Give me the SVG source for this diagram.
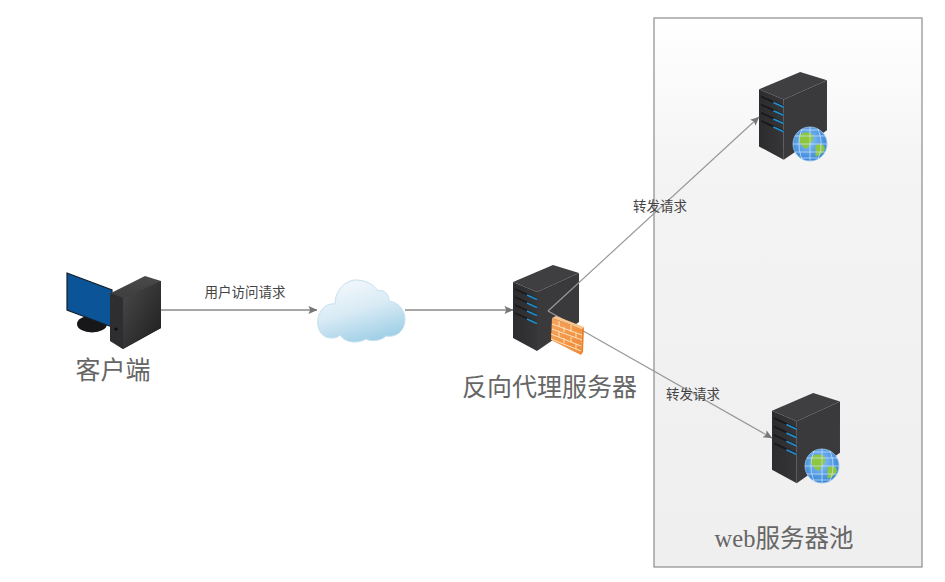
<svg xmlns="http://www.w3.org/2000/svg" xmlns:xlink="http://www.w3.org/1999/xlink" width="945" height="582" viewBox="0 0 945 582">
<style>
text{font-family:"Liberation Sans","Noto Sans CJK SC",sans-serif;text-anchor:middle}
.big{font-size:25px;fill:#666}
.small{font-size:13.5px;fill:#444}
.pool{font-family:"Liberation Serif","Noto Sans CJK SC",serif;font-size:24.500px;fill:#666}
.conn{fill:none;stroke:#999;stroke-width:1.200;marker-end:url(#arrow)}
.flat{stroke:#8a8a8a;stroke-width:1.500}
.blue{stroke:#1f8fd0;stroke-width:1.600;fill:none}
.slit{stroke:#1a1a1c;stroke-width:1.800;fill:none}
.brick{stroke:#fde3c0;stroke-width:1;fill:none}
.grid{stroke:#cfe6ff;stroke-width:.7;fill:none}
</style>
<defs>
<marker id="arrow" viewBox="0 0 10 10" refX="9.500" refY="5" markerUnits="userSpaceOnUse" markerWidth="9" markerHeight="9" orient="auto"><path d="M0 0.500L10 5L0 9.500L2 5Z" fill="#777"/></marker>
<linearGradient id="panel" x1="0" y1="0" x2="0" y2="1"><stop offset="0" stop-color="#ffffff"/><stop offset=".3" stop-color="#f3f3f3"/><stop offset="1" stop-color="#efefef"/></linearGradient>
<linearGradient id="cloud" x1=".2" y1="0" x2=".6" y2="1"><stop offset="0" stop-color="#f4f9fc"/><stop offset=".5" stop-color="#d9ebf5"/><stop offset="1" stop-color="#9fcfe6"/></linearGradient>
<linearGradient id="side" x1="0" y1="0" x2="1" y2="0"><stop offset="0" stop-color="#2c2c2e"/><stop offset="1" stop-color="#363638"/></linearGradient>
<linearGradient id="towerFront" x1="0" y1="0" x2="1" y2="1"><stop offset="0" stop-color="#4a4a4a"/><stop offset="1" stop-color="#1d1d1d"/></linearGradient>
<linearGradient id="towerSide" x1="0" y1="0" x2="0" y2="1"><stop offset="0" stop-color="#4a4a4a"/><stop offset="1" stop-color="#202020"/></linearGradient>
<linearGradient id="fire" x1="0" y1="0" x2="1" y2="1"><stop offset="0" stop-color="#f6a45a"/><stop offset="1" stop-color="#ef8a35"/></linearGradient>
<radialGradient id="globe" cx=".45" cy=".4" r=".65"><stop offset="0" stop-color="#8cc4f5"/><stop offset="1" stop-color="#2f7fd6"/></radialGradient>
<g id="server">
<path d="M0 17L40 0L66 8L24 27Z" fill="#3f3f41"/>
<path d="M0 17L24 27V86L0 73Z" fill="url(#side)"/>
<path d="M24 27L66 8V57L24 86Z" fill="#3a3a3c"/>
<path class="slit" d="M2 24L24 34M2 32L24 42M2 40L24 50M2 48L24 58"/>
<path class="blue" d="M14 30L24 34.500M14 38L24 42.500M14 46L24 50.500M14 54L24 58.500"/>
<path d="M11 56V78" stroke="#333" stroke-width=".8" fill="none"/>
</g>
<g id="earth">
<circle r="17" fill="url(#globe)" stroke="#9cc6ea" stroke-width=".8"/>
<path d="M-11 -9C-5 -13 3 -12 3 -7C4 -2 -1 -1 -2 4C-5 6 -9 1 -11 -3Z" fill="#8dc63f"/>
<path d="M6 1C11 -1 15 1 15 5C13 10 8 13 5 12C7 8 4 5 6 1Z" fill="#8dc63f"/>
<path class="grid" d="M-17 0H17M-15 -8H15M-15 8H15M-9 -14H9M-9 14H9M0 -17V17M-8 -15C-12 -5 -12 5 -8 15M8 -15C12 -5 12 5 8 15"/>
</g>
</defs>

<g id="pool">
<rect x="654" y="18" width="268" height="549" fill="url(#panel)" stroke="#8c8c8c" stroke-width="1.200"/>
<text class="pool" x="784" y="547">web服务器池</text>
</g>

<g id="client">
<ellipse cx="92" cy="324" rx="15" ry="8.500" fill="#17171a"/>
<path d="M67 273L112 290V327L67 310Z" fill="#0a5497" stroke="#15202c" stroke-width="1.200"/>
<path d="M111 293L145 276L161 281V328L123 349L111 341Z" fill="url(#towerSide)"/>
<path d="M123 298L161 281V328L123 349Z" fill="url(#towerFront)"/>
<path d="M110 293L123 298V349L110 341Z" fill="#2e2e30"/>
<circle cx="116" cy="329" r="1.600" fill="#0c0c0c"/>
<text class="big" x="113" y="379">客户端</text>
</g>

<g id="cloud-node">
<path d="M331 338C320 338 315 325 319 315C322 306 330 303 335 304C335 291 345 280 356 280C367 280 375 286 378 291C384 289 389 294 389 301C398 302 405 310 405 319C405 331 396 338 386 336C381 341 371 342 366 339C358 344 345 343 340 335C337 338 334 338 331 338Z" fill="url(#cloud)" stroke="#c5e0ef" stroke-width="1"/>
</g>

<g id="proxy">
<use xlink:href="#server" href="#server" x="513" y="265"/>
<text class="big" x="549.500" y="396">反向代理服务器</text>
</g>

<g id="web1">
<use xlink:href="#server" href="#server" transform="translate(759 72) scale(1.030 1.020)"/>
<use xlink:href="#earth" href="#earth" x="810" y="144"/>
</g>

<g id="web2">
<use xlink:href="#server" href="#server" transform="translate(772 393) scale(1.030 1.050)"/>
<use xlink:href="#earth" href="#earth" x="822" y="466"/>
</g>

<g id="connectors">
<path class="conn flat" d="M161 310H317"/>
<path class="conn flat" d="M405 310H513"/>
<path class="conn" d="M548 311L759 117"/>
<path class="conn" d="M548 311L772 438"/>
</g>

<g id="firewall">
<path d="M552 318L582 329L581 355L551 340Z" fill="url(#fire)"/>
<path d="M552 318L556 316L584 327L582 329Z" fill="#fbc58a"/>
<path d="M582 329L584 327L583 352L581 355Z" fill="#e87e28"/>
<path class="brick" d="M552 324L582 335M552 329L582 340M551 334L581 346M551 339L581 351M559 321V327M571 325V332M564 327V332M576 333V338M559 332V337M571 337V342M564 338V343M576 344V349"/>
</g>

<g id="labels">
<text class="small" x="245" y="297">用户访问请求</text>
<text class="small" x="660" y="211">转发请求</text>
<text class="small" x="693" y="399">转发请求</text>
</g>
</svg>
